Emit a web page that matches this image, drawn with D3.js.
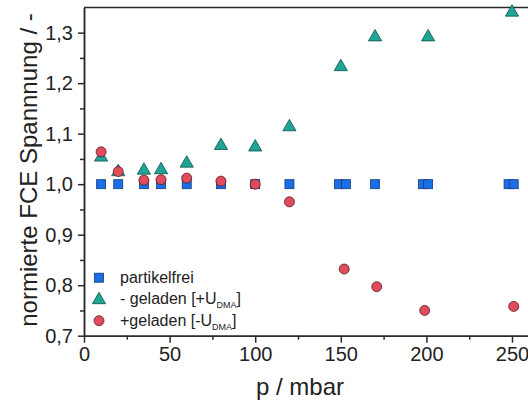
<!DOCTYPE html>
<html>
<head>
<meta charset="utf-8">
<script src="https://cdn.jsdelivr.net/npm/d3@7"></script>
<style>
  body { margin: 0; background: #fff; }
  svg { display: block; font-family: "Liberation Sans", Arial, sans-serif; }
</style>
</head>
<body>
<div id="chart"></div>
<script>
// partikelfrei (squares)
const freeP = [10, 20, 35, 45, 60, 80, 100, 120, 149, 153, 170, 198, 201, 248, 251];
const freeV = [1, 1, 1, 1, 1, 1, 1, 1, 1, 1, 1, 1, 1, 1, 1];

// - geladen [+U_DMA] (triangles)
const negP = [10, 20, 35, 45, 60, 80, 100, 120, 150, 170, 201, 250];
const negV = [1.057, 1.028, 1.031, 1.032, 1.045, 1.08, 1.077, 1.117, 1.236, 1.295, 1.295, 1.344];

// +geladen [-U_DMA] (circles)
const posP = [10, 20, 35, 45, 60, 80, 100, 120, 152, 171, 199, 251];
const posV = [1.064, 1.025, 1.008, 1.009, 1.012, 1.006, 1.0, 0.965, 0.832, 0.797, 0.75, 0.758];

const xMajor = [0, 50, 100, 150, 200, 250];
const xMinor = [25, 75, 125, 175, 225];
const yMajor = [0.7, 0.8, 0.9, 1.0, 1.1, 1.2, 1.3];
const yMinor = [0.75, 0.85, 0.95, 1.05, 1.15, 1.25];

const width = 528;
const height = 405;
const axisColor = "#2b2b2b";

function zipSeries(ps, vs) {
  return ps.map((p, i) => ({ p, v: vs[i] }));
}

// triangle centred on its bounding box (like Origin markers)
const boxTriangle = {
  draw(context, size) {
    const s = Math.sqrt(size / (Math.sqrt(3) / 4));
    const h = s * Math.sqrt(3) / 2;
    context.moveTo(0, -h / 2);
    context.lineTo(s / 2, h / 2);
    context.lineTo(-s / 2, h / 2);
    context.closePath();
  }
};

function drawChart() {
  const svg = d3.select("#chart")
    .append("svg")
    .attr("width", width)
    .attr("height", height);

  const x = d3.scaleLinear().domain([0, 262]).range([84, 84 + 262 * 1.712]);
  const y = d3.scaleLinear().domain([0.7, 1.35]).range([335.7, 7.4]);

  // top frame line
  svg.append("line")
    .attr("x1", x(0)).attr("x2", width + 10)
    .attr("y1", y(1.35)).attr("y2", y(1.35))
    .attr("stroke", axisColor).attr("stroke-width", 1.5);

  const xAxis = svg.append("g")
    .attr("transform", `translate(0,${y(0.7)})`)
    .call(d3.axisBottom(x).tickValues(xMajor).tickSize(7).tickSizeOuter(0).tickPadding(4)
      .tickFormat(d3.format("d")));

  svg.append("g")
    .attr("transform", `translate(0,${y(0.7)})`)
    .call(d3.axisBottom(x).tickValues(xMinor).tickSize(4).tickSizeOuter(0).tickFormat(""));

  const yAxis = svg.append("g")
    .attr("transform", `translate(${x(0)},0)`)
    .call(d3.axisLeft(y).tickValues(yMajor).tickSize(6).tickSizeOuter(0).tickPadding(5)
      .tickFormat((d) => d3.format(".1f")(d).replace(".", ",")));

  svg.append("g")
    .attr("transform", `translate(${x(0)},0)`)
    .call(d3.axisLeft(y).tickValues(yMinor).tickSize(4).tickSizeOuter(0).tickFormat(""));

  svg.selectAll(".domain, .tick line")
    .attr("stroke", axisColor)
    .attr("stroke-width", 1.5);

  xAxis.selectAll("text").attr("font-size", 20).attr("fill", "#222");
  yAxis.selectAll("text").attr("font-size", 20).attr("fill", "#222");

  // axis titles
  svg.append("text")
    .attr("x", 300).attr("y", 395)
    .attr("text-anchor", "middle")
    .attr("font-size", 24)
    .attr("fill", "#222")
    .text("p / mbar");

  svg.append("text")
    .attr("transform", "translate(37,170) rotate(-90)")
    .attr("text-anchor", "middle")
    .attr("font-size", 24)
    .attr("fill", "#222")
    .text("normierte FCE Spannnung / -");

  // markers
  const sq = 9;
  svg.append("g")
    .selectAll("rect")
    .data(zipSeries(freeP, freeV))
    .join("rect")
    .attr("x", (d) => x(d.p) - sq / 2)
    .attr("y", (d) => y(d.v) - sq / 2)
    .attr("width", sq).attr("height", sq)
    .attr("fill", "#1a6ee6")
    .attr("stroke", "#123a80")
    .attr("stroke-width", 0.8);

  const tri = d3.symbol().type(boxTriangle).size(75);
  svg.append("g")
    .selectAll("path")
    .data(zipSeries(negP, negV))
    .join("path")
    .attr("transform", (d) => `translate(${x(d.p)},${y(d.v)})`)
    .attr("d", tri)
    .attr("fill", "#1fa595")
    .attr("stroke", "#0f4f48")
    .attr("stroke-width", 0.8);

  svg.append("g")
    .selectAll("circle")
    .data(zipSeries(posP, posV))
    .join("circle")
    .attr("cx", (d) => x(d.p))
    .attr("cy", (d) => y(d.v))
    .attr("r", 5)
    .attr("fill", "#e04c5c")
    .attr("stroke", "#5a1c22")
    .attr("stroke-width", 0.8);

  // legend
  const legend = svg.append("g").attr("font-size", 16).attr("fill", "#222");
  legend.append("rect")
    .attr("x", 99 - sq / 2).attr("y", 277.7 - sq / 2)
    .attr("width", sq).attr("height", sq)
    .attr("fill", "#1a6ee6").attr("stroke", "#123a80").attr("stroke-width", 0.8);
  legend.append("path")
    .attr("transform", "translate(99,298)")
    .attr("d", tri)
    .attr("fill", "#1fa595").attr("stroke", "#0f4f48").attr("stroke-width", 0.8);
  legend.append("circle")
    .attr("cx", 99).attr("cy", 320.7).attr("r", 5)
    .attr("fill", "#e04c5c").attr("stroke", "#5a1c22").attr("stroke-width", 0.8);

  legend.append("text").attr("x", 120).attr("y", 283).text("partikelfrei");

  const t2 = legend.append("text").attr("x", 120).attr("y", 304);
  t2.append("tspan").text("- geladen [+U");
  t2.append("tspan").attr("font-size", 9).attr("dy", 4).text("DMA");
  t2.append("tspan").attr("dy", -4).text("]");

  const t3 = legend.append("text").attr("x", 120).attr("y", 326);
  t3.append("tspan").text("+geladen [-U");
  t3.append("tspan").attr("font-size", 9).attr("dy", 4).text("DMA");
  t3.append("tspan").attr("dy", -4).text("]");
}

drawChart();
</script>
</body>
</html>
